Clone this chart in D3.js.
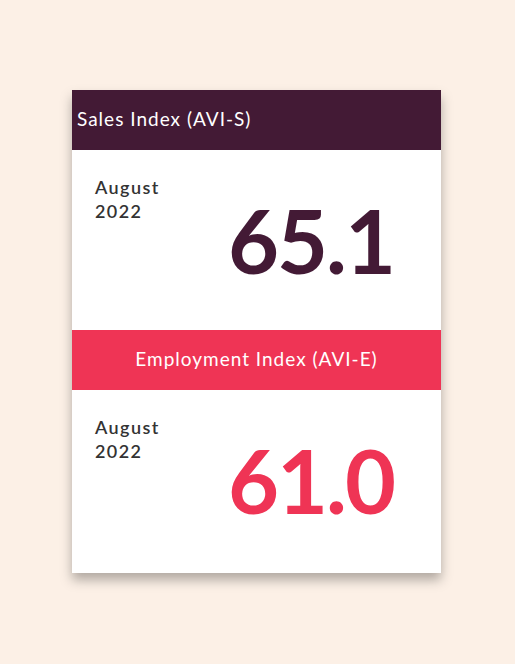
<!DOCTYPE html>
<html>
<head>
<meta charset="utf-8">
<script src="https://cdn.jsdelivr.net/npm/d3@7"></script>
<style>
  html, body { margin: 0; padding: 0; background: #fcf0e6; }
  svg { display: block; }
</style>
</head>
<body>
<script>
const indexNames = ['Sales Index (AVI-S)', 'Employment Index (AVI-E)']
const periodMonths = ['August', 'August']
const periodYears = ['2022', '2022']
const indexValues = [65.1, 61.0]
const headerAlign = ['start', 'middle']

const width = 515
const height = 664
const card = { left: 72, right: 441, top: 90, bottom: 573 }
const headerHeight = 60

const colors = d3.scaleOrdinal().domain(indexNames).range(['#431a35', '#ef3455'])

// two stacked panels inside the card
const y = d3.scaleBand().domain(indexNames).range([card.top, card.bottom - 3])

const svg = d3.select('body').append('svg').attr('width', width).attr('height', height)

const defs = svg.append('defs')
const shadow = defs.append('filter').attr('id', 'shadow').attr('x', '-20%').attr('y', '-20%').attr('width', '140%').attr('height', '140%')
shadow.append('feDropShadow').attr('dx', 0).attr('dy', 7).attr('stdDeviation', 6).attr('flood-color', '#000').attr('flood-opacity', 0.3)

svg.append('rect')
    .attr('x', card.left).attr('y', card.top)
    .attr('width', card.right - card.left).attr('height', card.bottom - card.top)
    .attr('fill', '#fff')
    .attr('filter', 'url(#shadow)')

const panels = svg.selectAll('g.panel').data(indexNames).enter().append('g')
    .attr('class', 'panel')
    .attr('transform', d => `translate(${card.left},${Math.round(y(d))})`)

const w = card.right - card.left

panels.append('rect')
    .attr('width', w).attr('height', headerHeight)
    .attr('fill', d => colors(d))

panels.append('text')
    .attr('x', (d, i) => headerAlign[i] === 'start' ? 5 : w / 2)
    .attr('y', 36)
    .attr('text-anchor', (d, i) => headerAlign[i])
    .attr('font-family', 'Lato, sans-serif')
    .attr('font-size', 19)
    .attr('letter-spacing', 1)
    .attr('fill', '#fff')
    .text(d => d)

panels.append('text')
    .attr('x', 23).attr('y', 104)
    .attr('font-family', 'Lato, sans-serif')
    .attr('font-size', 18)
    .attr('font-weight', 600)
    .attr('letter-spacing', 1.4)
    .attr('fill', '#333')
    .text((d, i) => periodMonths[i])

panels.append('text')
    .attr('x', 23).attr('y', 128)
    .attr('font-family', 'Lato, sans-serif')
    .attr('font-size', 18)
    .attr('font-weight', 600)
    .attr('letter-spacing', 1.4)
    .attr('fill', '#333')
    .text((d, i) => periodYears[i])

panels.append('text')
    .attr('x', 322).attr('y', 184)
    .attr('text-anchor', 'end')
    .attr('font-family', 'Lato, sans-serif')
    .attr('font-size', 88)
    .attr('font-weight', 700)
    .attr('letter-spacing', -2)
    .attr('fill', d => colors(d))
    .text((d, i) => d3.format('.1f')(indexValues[i]))
</script>
</body>
</html>
